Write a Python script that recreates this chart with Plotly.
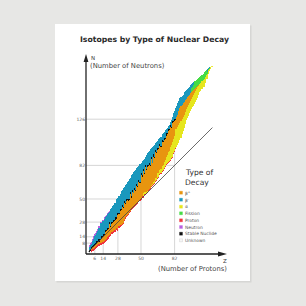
import plotly.graph_objects as go

# ---------------- data (per proton number Z = 1..118) ----------------
Z = list(range(1, 119))
n_min = [0, 1, 0, 1, 1, 2, 3, 4, 5, 6,
         7, 7, 8, 8, 9, 10, 11, 12, 13, 14,
         15, 17, 17, 18, 19, 19, 21, 20, 23, 24,
         25, 26, 27, 30, 32, 33, 34, 35, 37, 38,
         40, 41, 42, 43, 44, 45, 46, 48, 49, 50,
         52, 52, 54, 54, 55, 56, 58, 59, 60, 62,
         63, 64, 65, 67, 68, 70, 71, 73, 74, 76,
         77, 79, 81, 83, 84, 85, 86, 87, 89, 90,
         93, 95, 98, 100, 102, 104, 107, 109, 112, 115,
         118, 122, 126, 128, 130, 132, 134, 136, 138, 139,
         141, 143, 145, 147, 150, 152, 153, 155, 157, 157,
         161, 165, 165, 170, 172, 174, 176, 176]
n_max = [6, 8, 9, 12, 14, 16, 17, 19, 21, 24,
         28, 28, 30, 30, 32, 33, 34, 36, 37, 38,
         40, 41, 43, 44, 46, 46, 50, 51, 52, 54,
         57, 58, 60, 61, 63, 64, 66, 67, 69, 70,
         72, 73, 75, 76, 77, 79, 80, 81, 83, 84,
         86, 87, 88, 90, 91, 93, 94, 95, 97, 98,
         99, 100, 101, 103, 104, 105, 107, 108, 109, 111,
         112, 113, 115, 116, 117, 119, 120, 123, 125, 128,
         131, 133, 136, 138, 141, 143, 146, 147, 148, 149,
         151, 152, 153, 154, 155, 156, 158, 159, 160, 161,
         162, 162, 163, 164, 165, 166, 167, 168, 169, 170,
         171, 172, 173, 174, 175, 175, 176, 176]
stable_lo = [0, 1, 3, 5, 5, 6, 7, 8, 10, 10,
             12, 13, 14, 15, 16, 19, 20, 21, 22, 27,
             24, 27, 28, 29, 30, 31, 32, 35, 36, 39,
             40, 43, 42, 47, 46, 49, 50, 49, 50, 55,
             52, 57, -1, 59, 58, 63, 62, 67, 66, 73,
             72, 77, 74, 81, 78, 81, 82, 83, 82, 89,
             -1, 91, 90, 95, 94, 97, 98, 101, 100, 105,
             105, 107, 108, 111, 112, 115, 116, 119, 118, 123,
             124, 125, 126, -1, -1, -1, -1, -1, -1, -1,
             -1, -1, -1, -1, -1, -1, -1, -1, -1, -1,
             -1, -1, -1, -1, -1, -1, -1, -1, -1, -1,
             -1, -1, -1, -1, -1, -1, -1, -1]
stable_hi = [1, 2, 4, 5, 6, 7, 8, 10, 10, 12,
             12, 14, 14, 16, 16, 20, 20, 22, 22, 28,
             24, 28, 28, 30, 30, 32, 32, 36, 36, 40,
             40, 44, 42, 48, 46, 50, 50, 50, 50, 56,
             52, 58, -1, 60, 58, 64, 62, 68, 66, 74,
             72, 78, 74, 82, 78, 82, 82, 84, 82, 90,
             -1, 92, 90, 96, 94, 98, 98, 102, 100, 106,
             105, 108, 108, 112, 112, 116, 116, 120, 118, 124,
             124, 126, 126, -1, -1, -1, -1, -1, -1, -1,
             -1, -1, -1, -1, -1, -1, -1, -1, -1, -1,
             -1, -1, -1, -1, -1, -1, -1, -1, -1, -1,
             -1, -1, -1, -1, -1, -1, -1, -1]
proton_cells = [0, 0, 2, 2, 2, 2, 2, 2, 2, 2,
                2, 2, 2, 2, 2, 2, 2, 2, 2, 2,
                2, 2, 2, 2, 2, 2, 2, 2, 2, 2,
                1, 1, 1, 1, 1, 1, 1, 1, 1, 1,
                1, 1, 1, 1, 1, 1, 1, 1, 1, 1,
                1, 1, 1, 1, 1, 1, 1, 1, 1, 1,
                1, 1, 1, 1, 1, 1, 1, 1, 1, 1,
                1, 1, 1, 1, 1, 1, 1, 1, 1, 1,
                1, 1, 1, 0, 0, 0, 0, 0, 0, 0,
                0, 0, 0, 0, 0, 0, 0, 0, 0, 0,
                0, 0, 0, 0, 0, 0, 0, 0, 0, 0,
                0, 0, 0, 0, 0, 0, 0, 0]
neutron_cells = [2, 2, 2, 2, 2, 2, 2, 2, 2, 2,
                 1, 1, 1, 1, 1, 1, 1, 1, 1, 1,
                 0, 0, 0, 0, 0, 0, 0, 0, 0, 0,
                 0, 0, 0, 0, 0, 0, 0, 0, 0, 0,
                 0, 0, 0, 0, 0, 0, 0, 0, 0, 0,
                 0, 0, 0, 0, 0, 0, 0, 0, 0, 0,
                 0, 0, 0, 0, 0, 0, 0, 0, 0, 0,
                 0, 0, 0, 0, 0, 0, 0, 0, 0, 0,
                 0, 0, 0, 0, 0, 0, 0, 0, 0, 0,
                 0, 0, 0, 0, 0, 0, 0, 0, 0, 0,
                 0, 0, 0, 0, 0, 0, 0, 0, 0, 0,
                 0, 0, 0, 0, 0, 0, 0, 0]
alpha_hi = [-1, -1, -1, -1, -1, -1, -1, -1, -1, -1,
            -1, -1, -1, -1, -1, -1, -1, -1, -1, -1,
            -1, -1, -1, -1, -1, -1, -1, -1, -1, -1,
            -1, -1, -1, -1, -1, -1, -1, -1, -1, -1,
            -1, -1, -1, -1, -1, -1, -1, -1, -1, -1,
            -1, 55, 56, 56, 56, 57, -1, -1, -1, 63,
            64, 66, 67, 70, 70, 74, 74, 77, 78, 81,
            82, 85, 87, 90, 91, 94, 95, 99, 101, 104,
            107, 110, 116, 116, 118, 120, 122, 124, 126, 128,
            130, 132, 135, 137, 139, 141, 143, 145, 147, 149,
            150, 152, 154, 156, 157, 159, 160, 162, 163, 164,
            166, 168, 169, 172, 173, 175, 176, 176]
bplus_hi = [-1, 0, 2, 4, 4, 5, 6, 7, 9, 9,
            11, 12, 13, 14, 15, 18, 19, 20, 21, 26,
            23, 26, 27, 28, 29, 30, 31, 34, 35, 38,
            39, 42, 41, 46, 45, 48, 49, 48, 49, 54,
            51, 56, 55, 58, 57, 62, 61, 66, 65, 72,
            71, 76, 73, 80, 77, 80, 81, 82, 81, 88,
            84, 90, 89, 94, 93, 96, 97, 100, 99, 104,
            104, 106, 107, 110, 111, 114, 115, 118, 117, 122,
            123, 124, 125, 128, 130, 133, 136, 138, 139, 141,
            142, 144, 145, 147, 148, 149, 150, 151, 152, 153,
            154, 155, 156, 157, 158, 159, 160, 162, 163, 164,
            166, 168, 169, 172, 173, 175, 176, 176]
fission_hi = [0, 0, 0, 0, 0, 0, 0, 0, 0, 0,
              0, 0, 0, 0, 0, 0, 0, 0, 0, 0,
              0, 0, 0, 0, 0, 0, 0, 0, 0, 0,
              0, 0, 0, 0, 0, 0, 0, 0, 0, 0,
              0, 0, 0, 0, 0, 0, 0, 0, 0, 0,
              0, 0, 0, 0, 0, 0, 0, 0, 0, 0,
              0, 0, 0, 0, 0, 0, 0, 0, 0, 0,
              0, 0, 0, 0, 0, 0, 0, 0, 0, 0,
              0, 0, 0, 0, 0, 0, 0, 0, 0, 0,
              0, 0, 0, 0, 0, 0, 0, 155, 156, 158,
              162, 162, 163, 164, 165, 166, 167, 168, 169, 170,
              171, 172, 170, 173, 174, 0, 0, 0]

magic_n = [8, 14, 28, 50, 82, 126]
magic_z = [6, 14, 28, 50, 82]
n_tick_text = ["8", "14", "28", "50", "82", "126"]
z_tick_text = ["6", "14", "28", "50", "82"]

legend_labels = ["β<sup>+</sup>", "β<sup>-</sup>", "α", "Fission", "Proton",
                 "Neutron", "Stable Nuclide", "Unknown"]
legend_colors = ["#e8950f", "#1a98bd", "#e6e61e", "#45dc45", "#f0323c",
                 "#b860e0", "#111111", "#f6f6f6"]

# category order in heatmap: 0 proton,1 alpha,2 beta+,3 stable,4 fission,5 neutron,6 beta-
cat_colors = ["#f0323c", "#e6e61e", "#e8950f", "#111111", "#45dc45", "#b860e0", "#1a98bd"]

# ---------------- build grid ----------------
n_top = max(n_max)
grid = [[None] * len(Z) for _ in range(n_top + 1)]
for i, z in enumerate(Z):
    for n in range(n_min[i], n_max[i] + 1):
        if n < n_min[i] + proton_cells[i]:
            c = 0
        elif n <= alpha_hi[i]:
            c = 1
        elif n <= bplus_hi[i]:
            c = 2
        elif stable_lo[i] <= n <= stable_hi[i]:
            c = 3
        elif n <= fission_hi[i]:
            c = 4
        elif n > n_max[i] - neutron_cells[i]:
            c = 5
        else:
            c = 6
        grid[n][i] = c

k = len(cat_colors)
cscale = []
for j, col in enumerate(cat_colors):
    cscale.append([j / k, col])
    cscale.append([(j + 1) / k, col])

# ---------------- geometry ----------------
W = H = 306
PX = 1.05             # pixels per unit
OX, OY = 88.5, 251.5  # pixel position of Z=0 / N=0
AX_L, AX_R = 86, 225
AX_B, AX_T = 254, 57
xr = [(AX_L - OX) / PX, (AX_R - OX) / PX]
yr = [(OY - AX_B) / PX, (OY - AX_T) / PX]

def px(x):
    return x / W

def py(y):
    return 1 - y / H

fig = go.Figure()
fig.add_trace(go.Heatmap(
    x=Z, y=list(range(n_top + 1)), z=grid,
    colorscale=cscale, zmin=-0.5, zmax=k - 0.5,
    showscale=False, hoverinfo="skip", zsmooth=False))

fig.add_trace(go.Scatter(
    x=[0, max(Z)], y=[0, max(Z)], mode="lines",
    line=dict(color="#444", width=0.8), hoverinfo="skip", showlegend=False))

shapes = []
# card shadow + card
shapes.append(dict(type="rect", xref="paper", yref="paper",
                   x0=px(56.5), x1=px(251.5), y0=py(282.5), y1=py(25.5),
                   fillcolor="#d6d6d4", line=dict(width=0), layer="below"))
shapes.append(dict(type="rect", xref="paper", yref="paper",
                   x0=px(55), x1=px(250), y0=py(281), y1=py(24),
                   fillcolor="#ffffff", line=dict(width=0), layer="below"))
gcol = "#c4c4c4"
for m in magic_n:
    shapes.append(dict(type="line", xref="x", yref="y", x0=xr[0], x1=min(m, 82), y0=m, y1=m,
                       line=dict(color=gcol, width=0.7), layer="below"))
for m in magic_z:
    shapes.append(dict(type="line", xref="x", yref="y", x0=m, x1=m, y0=yr[0],
                       y1=(126 if m == 82 else m),
                       line=dict(color=gcol, width=0.7), layer="below"))

# axis lines with arrow heads
acol = "#222"
shapes.append(dict(type="line", xref="paper", yref="paper", x0=px(86), x1=px(219),
                   y0=py(254), y1=py(254), line=dict(color=acol, width=1.3)))
shapes.append(dict(type="line", xref="paper", yref="paper", x0=px(86), x1=px(86),
                   y0=py(254), y1=py(61), line=dict(color=acol, width=1.3)))
shapes.append(dict(type="path", xref="paper", yref="paper",
                   path="M %f,%f L %f,%f L %f,%f Z" % (px(227), py(254), px(218), py(251.6), px(218), py(256.4)),
                   fillcolor=acol, line=dict(width=0)))
shapes.append(dict(type="path", xref="paper", yref="paper",
                   path="M %f,%f L %f,%f L %f,%f Z" % (px(86), py(54), px(83.6), py(62), px(88.4), py(62)),
                   fillcolor=acol, line=dict(width=0)))

ann = []
FONT = "DejaVu Sans"

def txt(x, y, s, size, color="#444", xanchor="left", bold=False):
    ann.append(dict(x=px(x), y=py(y), xref="paper", yref="paper",
                    text=("<b>%s</b>" % s if bold else s),
                    showarrow=False, xanchor=xanchor, yanchor="middle",
                    font=dict(family=FONT, size=size, color=color)))

txt(154, 39, "Isotopes by Type of Nuclear Decay", 7.7, "#2a2a2a", "center", True)
txt(89, 58.5, "N", 5.5, "#444")
txt(88.3, 65.5, "(Number of Neutrons)", 6.8, "#444")
txt(228.5, 261, "Z", 5.5, "#444", "right")
txt(228.5, 268.5, "(Number of Protons)", 6.8, "#444", "right")
txt(183.3, 172.5, "Type of", 7.6, "#333")
txt(183.3, 182.5, "Decay", 7.6, "#333")
ys = [192.7, 199.7, 206.7, 213.3, 220.3, 227.0, 233.7, 240.3]
for lab, col, yy in zip(legend_labels, legend_colors, ys):
    shapes.append(dict(type="rect", xref="paper", yref="paper",
                       x0=px(179.5), x1=px(182.5), y0=py(yy + 1.5), y1=py(yy - 1.5),
                       fillcolor=col,
                       line=dict(width=0.3, color="#bbbbbb" if lab == "Unknown" else col)))
    txt(183.3, yy, lab, 4.4, "#555")

fig.update_layout(
    width=W, height=H, margin=dict(l=0, r=0, t=0, b=0),
    paper_bgcolor="#e7e7e5", plot_bgcolor="rgba(0,0,0,0)",
    showlegend=False, shapes=shapes, annotations=ann,
    xaxis=dict(domain=[px(AX_L), px(AX_R)], range=xr, showgrid=False, zeroline=False,
               showline=False, ticks="", tickvals=magic_z, ticktext=z_tick_text,
               tickfont=dict(family=FONT, size=4.5, color="#666")),
    yaxis=dict(domain=[py(AX_B), py(AX_T)], range=yr, showgrid=False, zeroline=False,
               showline=False, ticks="", tickvals=magic_n, ticktext=n_tick_text,
               tickfont=dict(family=FONT, size=4.5, color="#666")),
)

fig.write_html("out.html")
